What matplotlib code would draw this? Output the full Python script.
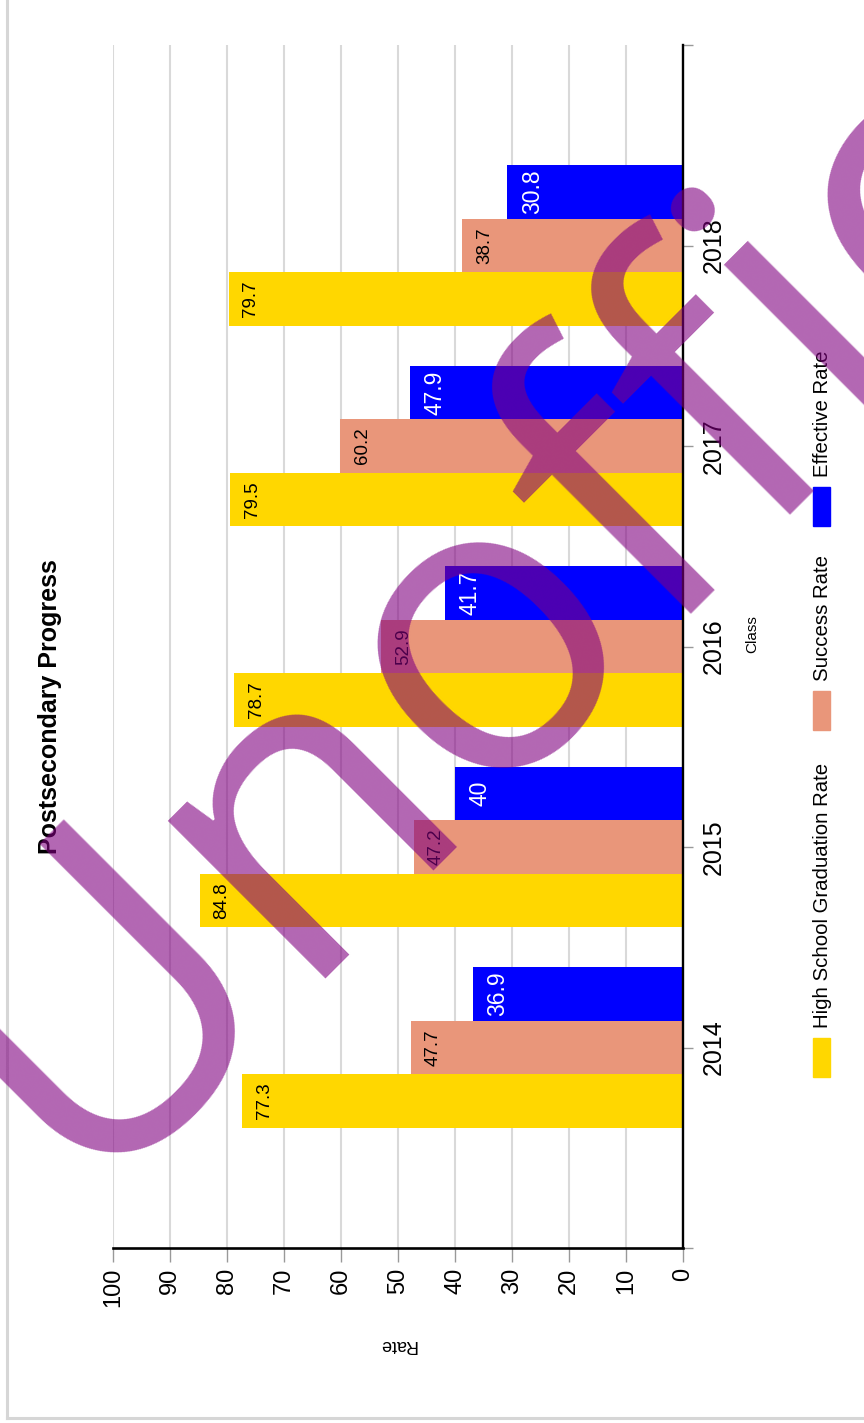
import numpy as np
import matplotlib
matplotlib.use("Agg")
import matplotlib.pyplot as plt
from matplotlib.patches import Rectangle
from matplotlib.lines import Line2D

# data
classes = ["2014", "2015", "2016", "2017", "2018"]
hs_grad = [77.3, 84.8, 78.7, 79.5, 79.7]
success = [47.7, 47.2, 52.9, 60.2, 38.7]
effective = [36.9, 40, 41.7, 47.9, 30.8]
series_names = ["High School Graduation Rate", "Success Rate", "Effective Rate"]
colors = ["#FFD700", "#E9967A", "#0000FF"]
rate_ticks = list(range(0, 101, 10))

W, H = 864, 1423
plt.rcParams["font.family"] = ["Liberation Sans", "DejaVu Sans"]
fig = plt.figure(figsize=(W / 100, H / 100), dpi=100)


def fx(px):
    return px / W


def fy(py):
    return 1 - py / H


# chart is drawn turned a quarter turn: bars run right-to-left
ax = fig.add_axes([fx(113), fy(1248), fx(683) - fx(113), fy(45) - fy(1248)])

idx = np.arange(len(classes))
bw = 0.8 / 3
for i, (vals, c) in enumerate(zip([hs_grad, success, effective], colors)):
    pos = idx + (i - 1) * bw
    ax.barh(pos, vals, height=bw, color=c, zorder=2)
    for p, v in zip(pos, vals):
        if i == 2:
            tc, fs, off = "white", 16.5, 18
        else:
            tc, fs, off = "black", 13.5, 16
        ax.annotate(f"{v:g}", xy=(v, p), xytext=(off, 0), textcoords="offset points",
                    rotation=90, ha="center", va="center", color=tc, fontsize=fs, zorder=3)

ax.set_xlim(100, 0)
ax.set_ylim(-1, 5)
ax.set_xticks(rate_ticks)
ax.set_xticklabels([str(t) for t in rate_ticks], rotation=90, fontsize=17)
ax.xaxis.grid(True, color="#d9d9d9", linewidth=1.5)
ax.set_axisbelow(True)
ax.tick_params(axis="x", length=10, width=1, color="#999999", pad=4.3)

ax.yaxis.tick_right()
ax.set_yticks(np.arange(-1, 6))
ax.set_yticklabels([""] + classes + [""], rotation=90, va="center", fontsize=18)
ax.tick_params(axis="y", length=7, width=1, color="#999999", pad=6.5)

ax.spines["left"].set_visible(False)
ax.spines["top"].set_visible(False)
ax.spines["right"].set_linewidth(1.7)
ax.spines["bottom"].set_linewidth(1.9)

# titles
fig.text(fx(50), fy(707), "Postsecondary Progress", rotation=90, fontsize=18,
         fontweight="bold", ha="center", va="center")
fig.text(fx(398), fy(1345), "Rate", rotation=180, fontsize=13, ha="center", va="center")
fig.text(fx(752), fy(634), "Class", rotation=90, fontsize=11, ha="center", va="center")

# legend, drawn by hand so it can be turned
sq_bottom = [1077, 730, 526]
for name, c, sb in zip(series_names, colors, sq_bottom):
    fig.add_artist(Rectangle((fx(813), fy(sb)), fx(830) - fx(813), fy(sb - 39) - fy(sb),
                             transform=fig.transFigure, color=c))
    fig.text(fx(822), fy(sb - 49), name, rotation=90, fontsize=14.7, ha="center", va="bottom")

# outer frame
fig.add_artist(Line2D([fx(7), fx(7)], [fy(1418), 1], transform=fig.transFigure,
                      color="#d6d6d6", lw=2.2))
fig.add_artist(Line2D([fx(7), 1], [fy(1418), fy(1418)], transform=fig.transFigure,
                      color="#d6d6d6", lw=2.2))

# watermark
fig.text(fx(76), fy(1191), "Unofficial", family="Open Sans", fontsize=300,
         color="purple", alpha=0.6, rotation=45, rotation_mode="anchor",
         ha="left", va="baseline", zorder=10)

fig.savefig("out.png", dpi=100)
